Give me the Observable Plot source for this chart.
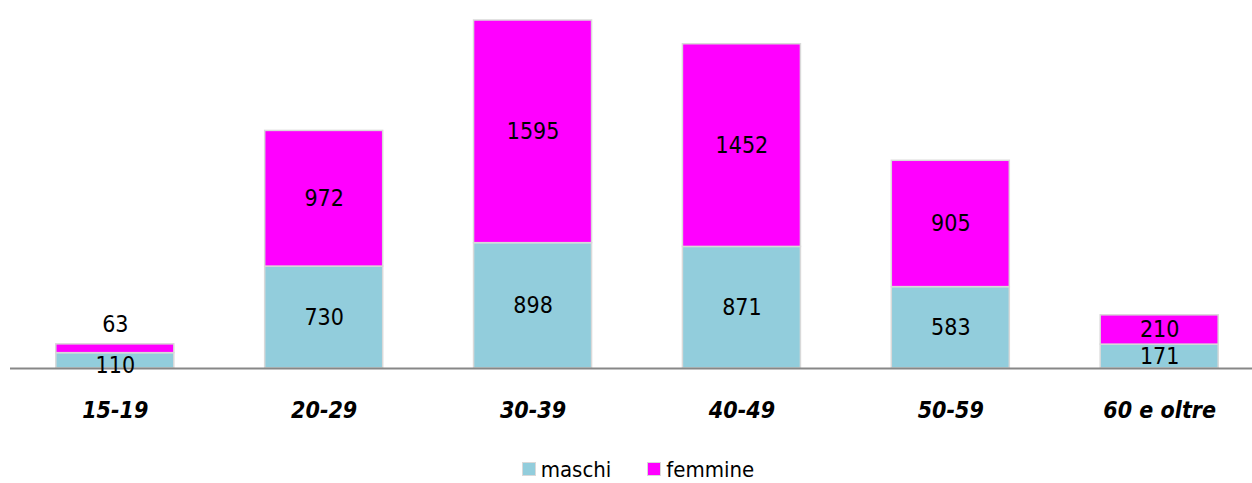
<!DOCTYPE html>
<html>
<head>
<meta charset="utf-8">
<script src="https://cdn.jsdelivr.net/npm/d3@7"></script>
<script src="https://cdn.jsdelivr.net/npm/@observablehq/plot@0.6"></script>
<style>
  html, body { margin: 0; padding: 0; background: #fff; }
  body { width: 1252px; height: 483px; overflow: hidden; font-family: "DejaVu Sans Condensed", "DejaVu Sans", sans-serif; font-stretch: condensed; }
  #legend { display: flex; justify-content: center; align-items: center; height: 30px; margin-top: 24px; padding-left: 24px; font-size: 22px; color: #000; }
  .item { display: flex; align-items: center; margin: 0 18px; }
  .sw { width: 12px; height: 12px; border: 1px solid #d9d9d9; margin-right: 5px; }
</style>
</head>
<body>
<div id="chart"></div>
<div id="legend"></div>
<script>
const categories = ["15-19", "20-29", "30-39", "40-49", "50-59", "60 e oltre"];
const maschi = [110, 730, 898, 871, 583, 171];
const femmine = [63, 972, 1595, 1452, 905, 210];
const seriesNames = ["maschi", "femmine"];
const seriesColors = ["#92CDDC", "#FF00FF"];

const rows = [];
categories.forEach((c, i) => {
  const m = maschi[i], f = femmine[i];
  rows.push({cat: c, sex: "maschi", value: m, y1: 0, y2: m, mid: m / 2, idx: i});
  rows.push({cat: c, sex: "femmine", value: f, y1: m, y2: m + f, mid: m + f / 2, idx: i});
});
const maxTotal = d3.max(categories, (c, i) => maschi[i] + femmine[i]);

const chart = Plot.plot({
  width: 1252,
  height: 430,
  marginLeft: 10,
  marginRight: 0,
  marginTop: 20,
  marginBottom: 62,
  style: {fontFamily: "'DejaVu Sans Condensed', 'DejaVu Sans', sans-serif", fontStretch: "condensed", background: "#fff"},
  x: {domain: categories, range: [55.8, 1218.2], paddingInner: 0.435, paddingOuter: 0, round: false, label: null},
  y: {domain: [0, maxTotal], axis: null},
  color: {domain: seriesNames, range: seriesColors},
  marks: [
    Plot.rectY(rows, {x: "cat", y1: "y1", y2: "y2", fill: "sex", stroke: "#d9d9d9", strokeWidth: 1.5}),
    Plot.ruleY([0], {stroke: "#878787", strokeWidth: 2}),
    Plot.text(rows.filter(d => d.idx !== 0), {x: "cat", y: "mid", text: d => String(d.value), fontSize: 23, fill: "#000"}),
    Plot.text(rows.filter(d => d.idx === 0 && d.sex === "maschi"), {x: "cat", y: "mid", text: d => String(d.value), fontSize: 23, fill: "#000", dy: 5}),
    Plot.text(rows.filter(d => d.idx === 0 && d.sex === "femmine"), {x: "cat", y: "y2", text: d => String(d.value), fontSize: 23, fill: "#000", dy: -20}),
    Plot.axisX({tickSize: 0, tickPadding: 33, fontSize: 23, fontWeight: "bold", fontStyle: "italic", fill: "#000", label: null})
  ]
});
document.getElementById("chart").appendChild(chart);

const legend = document.getElementById("legend");
seriesNames.forEach((s, i) => {
  const item = document.createElement("div");
  item.className = "item";
  const sw = document.createElement("span");
  sw.className = "sw";
  sw.style.background = seriesColors[i];
  const t = document.createElement("span");
  t.textContent = s;
  item.appendChild(sw);
  item.appendChild(t);
  legend.appendChild(item);
});
</script>
</body>
</html>
